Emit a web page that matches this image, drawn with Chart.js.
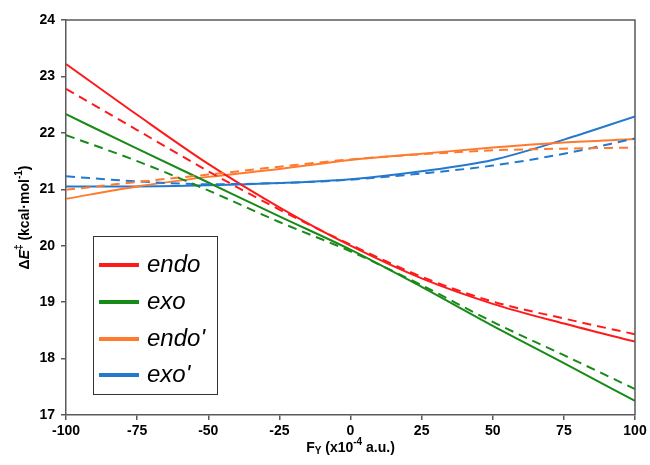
<!DOCTYPE html>
<html>
<head>
<meta charset="utf-8">
<title>Activation barrier vs field</title>
<script src="https://cdn.jsdelivr.net/npm/chart.js@4.4.1/dist/chart.umd.min.js"></script>
<style>
  body { margin: 0; background: #fff; }
</style>
</head>
<body>
<canvas id="chart" width="650" height="465"></canvas>
<script>
// field strength F_Y (x10^-4 a.u.)
const fieldValues = [-100, -75, -50, -25, 0, 25, 50, 75, 100];

// barriers in kcal/mol, solid = full curve, dashed = fitted
const endoSolid   = [23.22, 22.32, 21.45, 20.68, 20.00, 19.42, 18.97, 18.62, 18.30];
const endoDashed  = [22.78, 22.05, 21.32, 20.64, 20.02, 19.45, 19.01, 18.71, 18.43];
const exoSolid    = [22.33, 21.72, 21.12, 20.52, 19.93, 19.27, 18.58, 17.92, 17.25];
const exoDashed   = [21.96, 21.50, 20.98, 20.42, 19.90, 19.30, 18.65, 18.06, 17.46];
const endoPSolid  = [20.83, 21.05, 21.22, 21.36, 21.52, 21.63, 21.74, 21.83, 21.89];
const endoPDashed = [20.99, 21.13, 21.26, 21.40, 21.53, 21.62, 21.69, 21.72, 21.74];
const exoPSolid   = [21.05, 21.05, 21.07, 21.11, 21.18, 21.32, 21.52, 21.88, 22.29];
const exoPDashed  = [21.23, 21.14, 21.09, 21.11, 21.17, 21.28, 21.42, 21.63, 21.90];

const seriesNames  = ['endo', 'exo', "endo'", "exo'"];
const seriesColors = ['#ff1a1a', '#178a17', '#ff7a2e', '#2479cf'];

const yTicks = [17, 18, 19, 20, 21, 22, 23, 24];
const xTicks = fieldValues;

const FONT = 'Arial, "Liberation Sans", sans-serif';
const AXIS_COLOR = '#5a5a5a';

function points(values) {
  return values.map((v, i) => ({ x: fieldValues[i], y: v }));
}

function lineSet(label, values, color, dashed) {
  return {
    label: label,
    data: points(values),
    borderColor: color,
    backgroundColor: color,
    borderWidth: 2,
    borderDash: dashed ? [9, 6] : [],
    pointRadius: 0,
    cubicInterpolationMode: 'monotone',
    fill: false
  };
}

const solidSets  = [endoSolid, exoSolid, endoPSolid, exoPSolid];
const dashedSets = [endoDashed, exoDashed, endoPDashed, exoPDashed];

const datasets = [];
dashedSets.forEach((vals, i) => datasets.push(lineSet(seriesNames[i] + ' fit', vals, seriesColors[i], true)));
solidSets.forEach((vals, i) => datasets.push(lineSet(seriesNames[i], vals, seriesColors[i], false)));

// draws a run of text pieces (sub/superscripts, italics) starting at x,y
function drawRich(ctx, parts, x, y, size) {
  let cx = x;
  parts.forEach(p => {
    const s = p.small ? Math.round(size * 0.7) : size;
    ctx.font = (p.italic ? 'italic ' : '') + 'bold ' + s + 'px ' + FONT;
    let dy = 0;
    if (p.sup) dy = -size * 0.38;
    if (p.sub) dy = size * 0.22;
    ctx.fillText(p.t, cx, y + dy);
    cx += ctx.measureText(p.t).width;
  });
  return cx - x;
}

function richWidth(ctx, parts, size) {
  let w = 0;
  parts.forEach(p => {
    const s = p.small ? Math.round(size * 0.7) : size;
    ctx.font = (p.italic ? 'italic ' : '') + 'bold ' + s + 'px ' + FONT;
    w += ctx.measureText(p.t).width;
  });
  return w;
}

const yTitle = [
  { t: 'Δ' }, { t: 'E', italic: true }, { t: '‡', sup: true, small: true },
  { t: ' (kcal·mol' }, { t: '-1', sup: true, small: true }, { t: ')' }
];
const xTitle = [
  { t: 'F' }, { t: 'Y', sub: true, small: true },
  { t: ' (x10' }, { t: '-4', sup: true, small: true }, { t: ' a.u.)' }
];

const framePlugin = {
  id: 'frame',
  afterDatasetsDraw(chart) {
    const { ctx, chartArea: a } = chart;
    ctx.save();
    ctx.strokeStyle = AXIS_COLOR;
    ctx.lineWidth = 1.5;
    ctx.beginPath();
    ctx.moveTo(a.left, a.top);
    ctx.lineTo(a.right, a.top);
    ctx.lineTo(a.right, a.bottom);
    ctx.stroke();
    ctx.restore();
  }
};

const titlesPlugin = {
  id: 'titles',
  afterDraw(chart) {
    const { ctx, chartArea: a } = chart;
    ctx.save();
    ctx.fillStyle = '#000';
    ctx.textBaseline = 'middle';
    ctx.textAlign = 'left';
    const size = 14;

    const xw = richWidth(ctx, xTitle, size);
    drawRich(ctx, xTitle, (a.left + a.right) / 2 - xw / 2, 448, size);

    ctx.translate(25, (a.top + a.bottom) / 2);
    ctx.rotate(-Math.PI / 2);
    const yw = richWidth(ctx, yTitle, size);
    drawRich(ctx, yTitle, -yw / 2, 0, size);
    ctx.restore();
  }
};

const legendPlugin = {
  id: 'boxLegend',
  afterDraw(chart) {
    const { ctx } = chart;
    const box = { left: 93, top: 236, right: 217, bottom: 394 };
    const rows = [265, 302, 339, 375];
    ctx.save();
    ctx.fillStyle = '#fff';
    ctx.fillRect(box.left, box.top, box.right - box.left, box.bottom - box.top);
    ctx.strokeStyle = '#333';
    ctx.lineWidth = 1;
    ctx.strokeRect(box.left + 0.5, box.top + 0.5, box.right - box.left, box.bottom - box.top);
    seriesNames.forEach((name, i) => {
      ctx.strokeStyle = seriesColors[i];
      ctx.lineWidth = 4;
      ctx.beginPath();
      ctx.moveTo(99, rows[i]);
      ctx.lineTo(139, rows[i]);
      ctx.stroke();
      ctx.fillStyle = '#000';
      ctx.font = 'italic 24px ' + FONT;
      ctx.textBaseline = 'middle';
      ctx.fillText(name, 147, rows[i]);
    });
    ctx.restore();
  }
};

const tickFont = { family: FONT, size: 14, weight: 'bold' };

new Chart(document.getElementById('chart'), {
  type: 'line',
  data: { datasets: datasets },
  options: {
    responsive: false,
    animation: false,
    devicePixelRatio: 1,
    layout: { padding: { top: 20, right: 15, left: 0, bottom: 0 } },
    plugins: {
      legend: { display: false },
      tooltip: { enabled: false }
    },
    scales: {
      x: {
        type: 'linear',
        min: -100,
        max: 100,
        afterBuildTicks: s => { s.ticks = xTicks.map(v => ({ value: v })); },
        afterFit: s => { s.height = 50; },
        ticks: { color: '#000', font: tickFont, padding: 3, maxRotation: 0 },
        grid: { drawOnChartArea: false, tickLength: 5, color: AXIS_COLOR, lineWidth: 1.5 },
        border: { color: AXIS_COLOR, width: 1.5 }
      },
      y: {
        type: 'linear',
        min: 17,
        max: 24,
        afterBuildTicks: s => { s.ticks = yTicks.map(v => ({ value: v })); },
        afterFit: s => { s.width = 66; },
        ticks: { color: '#000', font: tickFont, padding: 6 },
        grid: { drawOnChartArea: false, tickLength: 5, color: AXIS_COLOR, lineWidth: 1.5 },
        border: { color: AXIS_COLOR, width: 1.5 }
      }
    }
  },
  plugins: [framePlugin, titlesPlugin, legendPlugin]
});
</script>
</body>
</html>
